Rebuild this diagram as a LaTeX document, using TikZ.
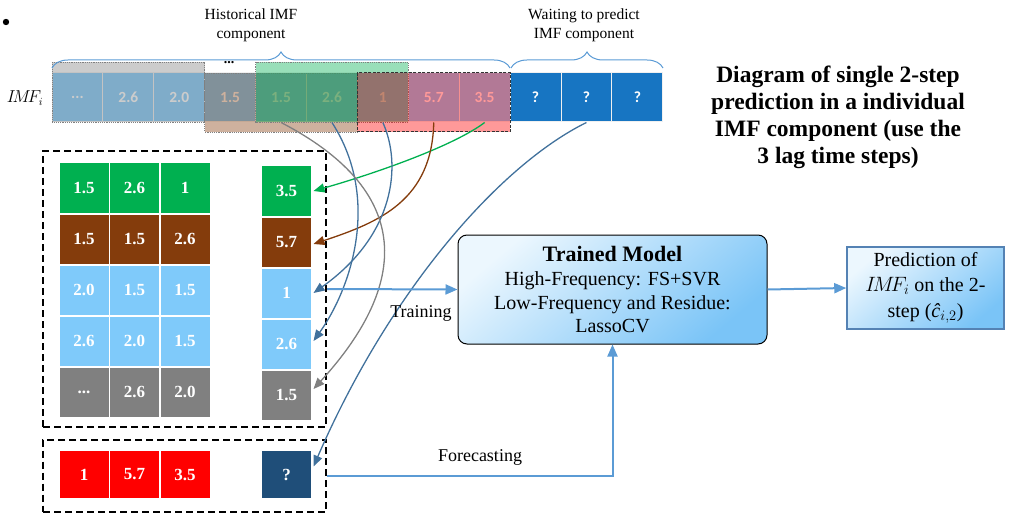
\documentclass[tikz,border=0pt]{standalone}
\usepackage{fontspec}
\setmainfont{Liberation Serif}
\newfontfamily\calfont{Carlito}
\usetikzlibrary{arrows.meta,decorations.pathreplacing,calc}
\definecolor{lblue}{RGB}{127,202,250}
\definecolor{qblue}{RGB}{23,117,194}
\definecolor{mgreen}{RGB}{0,176,80}
\definecolor{mbrown}{RGB}{132,60,12}
\definecolor{mgrey}{RGB}{128,128,128}
\definecolor{mred}{RGB}{255,0,0}
\definecolor{dblue}{RGB}{31,78,121}
\definecolor{lineblue}{RGB}{91,155,213}
\definecolor{curveblue}{RGB}{65,113,156}
\definecolor{gradlight}{RGB}{236,247,254}
\definecolor{graddark}{RGB}{122,196,247}
\definecolor{predborder}{RGB}{84,130,180}
\begin{document}
\begin{tikzpicture}[x=1pt,y=-1pt,
  topcell/.style={draw=white!88!gray, line width=1pt, fill=lblue, minimum width=50.9pt, minimum height=49pt, inner sep=0pt, text=white, font=\calfont\bfseries\fontsize{15.5}{18}\selectfont},
  mcell/.style={draw=white, line width=1.5pt, minimum width=50.5pt, minimum height=50.5pt, inner sep=0pt, text=white, font=\bfseries\fontsize{17}{19}\selectfont},
  dbox/.style={draw=black, line width=2pt, dash pattern=on 7pt off 4pt, inner sep=0pt},
  ovl/.style={fill opacity=0.4, draw=gray, line width=0.8pt, dash pattern=on 1.2pt off 1pt},
  curve/.style={line width=1.3pt, -{Triangle[length=11pt,width=9pt]}},
  conn/.style={draw=lineblue, line width=2pt, -{Triangle[length=12pt,width=10pt]}},
  lbl/.style={font=\fontsize{15.5}{19}\selectfont, align=center},
  brc/.style={draw=lineblue, line width=1pt, decorate, decoration={brace, amplitude=16pt}}
]
\useasboundingbox (0,0) rectangle (1011,513);
\fill (6,22) circle (3.2);

% top row
\node[topcell] (t0) at (77.45,97.5) {...};
\node[topcell] (t1) at (128.35,97.5) {2.6};
\node[topcell] (t2) at (179.25,97.5) {2.0};
\node[topcell] (t3) at (230.15,97.5) {1.5};
\node[topcell] (t4) at (281.05,97.5) {1.5};
\node[topcell] (t5) at (331.95,97.5) {2.6};
\node[topcell] (t6) at (382.85,97.5) {1};
\node[topcell] (t7) at (433.75,97.5) {5.7};
\node[topcell] (t8) at (484.65,97.5) {3.5};
\node[topcell, fill=qblue] (t9) at (535.55,97.5) {?};
\node[topcell, fill=qblue] (t10) at (586.45,97.5) {?};
\node[topcell, fill=qblue] (t11) at (637.35,97.5) {?};

% overlays
\path[ovl, fill=mgrey] (52,62) rectangle (204.7,122);
\path[ovl, fill=mbrown] (204.7,73) rectangle (357.4,132);
\path[ovl, fill=mgreen] (255.6,62) rectangle (408.3,122);
\path[ovl, fill=mred, draw=black!80, line width=1pt, dash pattern=on 3pt off 1.5pt] (357.4,73) rectangle (510.1,132);

% braces and labels
\draw[brc] (52,68) -- (510,68);
\draw[brc] (511,68) -- (663,68);
\node[lbl] (hist) at (251,25.5) {Historical IMF\\component};
\node[lbl] (wait) at (584,25.5) {Waiting to predict\\IMF component};
\node[font=\bfseries\fontsize{14}{16}\selectfont] (dots) at (229,63) {...};
\node[font=\fontsize{16}{19}\selectfont] (imf) at (25,98) {$I\!M\!F_i$};

% title
\node[font=\bfseries\fontsize{23.5}{27}\selectfont, align=center] (title) at (838,117) {Diagram of single 2-step\\prediction in a individual\\IMF component (use the\\3 lag time steps)};

% matrix
\node[mcell, fill=mgreen] (m00) at (84,188) {1.5};
\node[mcell, fill=mgreen] (m01) at (134.5,188) {2.6};
\node[mcell, fill=mgreen] (m02) at (185,188) {1};
\node[mcell, fill=mbrown] (m10) at (84,239) {1.5};
\node[mcell, fill=mbrown] (m11) at (134.5,239) {1.5};
\node[mcell, fill=mbrown] (m12) at (185,239) {2.6};
\node[mcell, fill=lblue] (m20) at (84,290) {2.0};
\node[mcell, fill=lblue] (m21) at (134.5,290) {1.5};
\node[mcell, fill=lblue] (m22) at (185,290) {1.5};
\node[mcell, fill=lblue] (m30) at (84,341) {2.6};
\node[mcell, fill=lblue] (m31) at (134.5,341) {2.0};
\node[mcell, fill=lblue] (m32) at (185,341) {1.5};
\node[mcell, fill=mgrey] (m40) at (84,392) {...};
\node[mcell, fill=mgrey] (m41) at (134.5,392) {2.6};
\node[mcell, fill=mgrey] (m42) at (185,392) {2.0};

\node[mcell, fill=mgreen] (r0) at (286.5,191) {3.5};
\node[mcell, fill=mbrown] (r1) at (286.5,242) {5.7};
\node[mcell, fill=lblue] (r2) at (286.5,293) {1};
\node[mcell, fill=lblue] (r3) at (286.5,344) {2.6};
\node[mcell, fill=mgrey] (r4) at (286.5,395) {1.5};

\node[mcell, fill=mred, minimum height=48pt] (f0) at (84,474.5) {1};
\node[mcell, fill=mred, minimum height=48pt] (f1) at (134.5,474.5) {5.7};
\node[mcell, fill=mred, minimum height=48pt] (f2) at (185,474.5) {3.5};
\node[mcell, fill=dblue, minimum height=48pt] (fq) at (286.5,474.5) {?};

\node[dbox, minimum width=283pt, minimum height=276pt] (mbox) at (184.5,289) {};
\node[dbox, minimum width=283pt, minimum height=72pt] (fbox) at (184.5,475.5) {};

% model and prediction
\node[draw=black, line width=1pt, rounded corners=9pt, top color=gradlight, bottom color=graddark, shading angle=40,
  minimum width=309pt, minimum height=109pt, align=center, font=\fontsize{20}{23.5}\selectfont] (tm) at (612.5,289.5)
  {{\bfseries\fontsize{22}{24}\selectfont Trained Model}\\[1pt]High-Frequency: FS+SVR\\Low-Frequency and Residue:\\LassoCV};
\node[draw=predborder, line width=1.5pt, top color=gradlight, bottom color=graddark, shading angle=40,
  minimum width=157pt, minimum height=82pt, align=center, font=\fontsize{20}{25}\selectfont] (pred) at (925.5,288)
  {Prediction of\\$I\!M\!F_i$ on the 2-\\[1pt]step (\textit{ĉ}$_{i,2}$)};

% curves
\draw[curve, draw=mgreen] (t8.south) .. controls (455,145) and (380,172) .. ([xshift=1pt]r0.east);
\draw[curve, draw=mbrown] (t7.south) .. controls (432,200) and (380,222) .. ([xshift=1pt,yshift=-2pt]r1.east);
\draw[curve, draw=curveblue] (t6.south) .. controls (402,165) and (395,235) .. ([xshift=1pt]r2.east);
\draw[curve, draw=curveblue] (t5.south) .. controls (382,200) and (350,290) .. ([xshift=1pt,yshift=3pt]r3.east);
\draw[curve, draw=mgrey] (t4.south) .. controls (430,200) and (395,300) .. ([xshift=1pt,yshift=6pt]r4.east);
\draw[curve, draw=curveblue] (t10.south) .. controls (500,165) and (390,290) .. ([xshift=1pt,yshift=8pt]fq.east);

% connectors
\draw[conn] (mbox.east) -- (tm.west);
\node[font=\fontsize{18}{20}\selectfont] (trn) at (421,313) {Training};
\draw[conn] (fbox.east) -| (tm.south);
\node[font=\fontsize{18}{20}\selectfont] (fc) at (480,457) {Forecasting};
\draw[conn] (tm.east) -- (pred.west);
\end{tikzpicture}
\end{document}
